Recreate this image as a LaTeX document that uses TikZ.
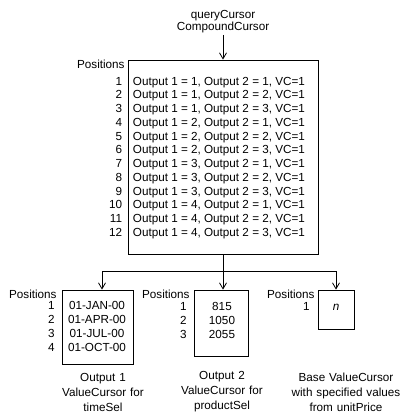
\documentclass[tikz,border=0pt]{standalone}
\usepackage{fontspec}
\setmainfont{Liberation Sans}
\usetikzlibrary{arrows.meta, positioning, calc}

\begin{document}
\begin{tikzpicture}[
    x=1pt, y=-1pt,
    line width=0.8pt,
    >={Straight Barb[length=6pt, width=7pt]}, % open V tips
    lbl/.style={font=\fontsize{11.7}{15}\selectfont, inner sep=0pt}, % plain text
    rowtext/.style={lbl, text height=8.4pt, text depth=0pt}, % one line of a list
    caption/.style={lbl, text width=116pt, align=center}, % text under a cursor
    cursorbox/.style={draw, inner sep=0pt}, % frame of a cursor
    feed/.style={->} % connector into a cursor
]

    % === Frame ===
    \useasboundingbox (0,0) rectangle (410,420);

    % === CompoundCursor ===
    \node[lbl, font=\fontsize{11.7}{12.5}\selectfont, align=center] (query) at (223,21.5) {queryCursor\\CompoundCursor};
    \node[cursorbox, minimum width=190pt, minimum height=194pt] (compound) at (223,157) {};
    \node[rowtext, anchor=east] (mainpos) at (125,64) {Positions};
    \foreach \i in {1,...,12} {
        \pgfmathtruncatemacro\outa{div(\i-1,3)+1}
        \pgfmathtruncatemacro\outb{mod(\i-1,3)+1}
        \node[rowtext, anchor=east] (mainnum\i) at (122.5,{81+(\i-1)*13.75}) {\i};
        \node[rowtext, anchor=west] (mainrow\i) at (132.5,{81+(\i-1)*13.75})
            {Output 1 = \outa, Output 2 = \outb, VC=1};
    }

    % === ValueCursors ===
    \node[cursorbox, minimum width=71pt, minimum height=74pt] (timebox) at (97.5,327) {};
    \node[cursorbox, minimum width=54pt, minimum height=66pt] (productbox) at (221,323) {};
    \node[cursorbox, minimum width=36pt, minimum height=39pt] (pricebox) at (336,309.5) {};

    % timeSel values
    \node[rowtext, anchor=east] (timepos) at (57,294) {Positions};
    \foreach \val [count=\i] in {01-JAN-00, 01-APR-00, 01-JUL-00, 01-OCT-00} {
        \node[rowtext, anchor=east] (timenum\i) at (55,{305.5+(\i-1)*14}) {\i};
        \node[rowtext] (timeval\i) at (97,{305.5+(\i-1)*14}) {\val};
    }

    % productSel values
    \node[rowtext, anchor=east] (productpos) at (190,294) {Positions};
    \foreach \val [count=\i] in {815, 1050, 2055} {
        \node[rowtext, anchor=east] (productnum\i) at (187,{306+(\i-1)*14}) {\i};
        \node[rowtext] (productval\i) at (222,{306+(\i-1)*14}) {\val};
    }

    % unitPrice value
    \node[rowtext, anchor=east] (pricepos) at (315,294) {Positions};
    \node[rowtext, anchor=east] (pricenum1) at (310,306) {1};
    \node[rowtext] (priceval1) at (336,306) {\textit{n}};

    % === Captions ===
    \node[caption] (timecap) at (103,392) {Output 1\\ValueCursor for\\timeSel};
    \node[caption] (productcap) at (222,392) {Output 2\\ValueCursor for\\productSel};
    \node[caption] (pricecap) at (346,392) {Base ValueCursor\\with specified values\\from unitPrice};

    % === Connectors ===
    \coordinate (split) at (223,271);
    \coordinate (lsplit) at (102,271);
    \coordinate (rsplit) at (pricebox.north |- split);

    \draw[feed] (query.south |- 0,35) -- (compound.north);
    \draw (compound.south) -- (split);
    \draw (lsplit) -- (rsplit);
    \draw[feed] (lsplit) -- (lsplit |- timebox.north);
    \draw[feed] (split) -- (split |- productbox.north);
    \draw[feed] (rsplit) -- (pricebox.north);

\end{tikzpicture}
\end{document}
